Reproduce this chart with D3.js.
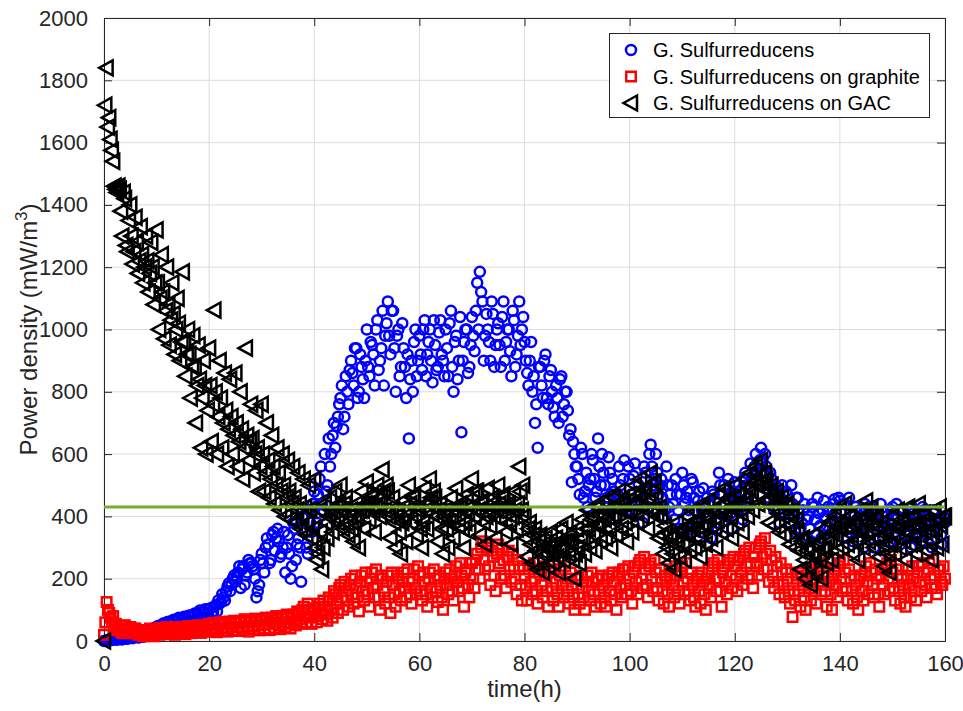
<!DOCTYPE html>
<html><head><meta charset="utf-8">
<script src="https://cdn.jsdelivr.net/npm/d3@7"></script>
<style>
body{margin:0;background:#fff}
svg{display:block}
text{font-family:"Liberation Sans",Arial,Helvetica,sans-serif;fill:#262626}
</style>
</head><body><svg id="chart" width="963" height="711"></svg>
<script>
// Sample times (h), first set of readings
const time = [
0,0.5,1,1.5,2,2.5,3,3.5,4,4.5,5,5.5,6,6.5,7,7.5,8,8.5,9,9.5,
10,10.5,11,11.5,12,12.5,13,13.5,14,14.5,15,15.5,16,16.5,17,17.5,18,18.5,19,19.5,
20,20.5,21,21.5,22,22.5,23,23.5,24,24.5,25,25.5,26,26.5,27,27.5,28,28.5,29,29.5,
30,30.5,31,31.5,32,32.5,33,33.5,34,34.5,35,35.5,36,36.5,37,37.5,38,38.5,39,39.5,
40,40.5,41,41.5,42,42.5,43,43.5,44,44.5,45,45.5,46,46.5,47,47.5,48,48.5,49,49.5,
50,50.5,51,51.5,52,52.5,53,53.5,54,54.5,55,55.5,56,56.5,57,57.5,58,58.5,59,59.5,
60,60.5,61,61.5,62,62.5,63,63.5,64,64.5,65,65.5,66,66.5,67,67.5,68,68.5,69,69.5,
70,70.5,71,71.5,72,72.5,73,73.5,74,74.5,75,75.5,76,76.5,77,77.5,78,78.5,79,79.5,
80,80.5,81,81.5,82,82.5,83,83.5,84,84.5,85,85.5,86,86.5,87,87.5,88,88.5,89,89.5,
90,90.5,91,91.5,92,92.5,93,93.5,94,94.5,95,95.5,96,96.5,97,97.5,98,98.5,99,99.5,
100,100.5,101,101.5,102,102.5,103,103.5,104,104.5,105,105.5,106,106.5,107,107.5,108,108.5,109,109.5,
110,110.5,111,111.5,112,112.5,113,113.5,114,114.5,115,115.5,116,116.5,117,117.5,118,118.5,119,119.5,
120,120.5,121,121.5,122,122.5,123,123.5,124,124.5,125,125.5,126,126.5,127,127.5,128,128.5,129,129.5,
130,130.5,131,131.5,132,132.5,133,133.5,134,134.5,135,135.5,136,136.5,137,137.5,138,138.5,139,139.5,
140,140.5,141,141.5,142,142.5,143,143.5,144,144.5,145,145.5,146,146.5,147,147.5,148,148.5,149,149.5,
150,150.5,151,151.5,152,152.5,153,153.5,154,154.5,155,155.5,156,156.5,157,157.5,158,158.5,159,159.5,
160];

// Sample times (h), second set of readings (between the first ones)
const timeB = [
0.25,0.75,1.25,1.75,2.25,2.75,3.25,3.75,4.25,4.75,5.25,5.75,6.25,6.75,7.25,7.75,8.25,8.75,9.25,9.75,
10.25,10.75,11.25,11.75,12.25,12.75,13.25,13.75,14.25,14.75,15.25,15.75,16.25,16.75,17.25,17.75,18.25,18.75,19.25,19.75,
20.25,20.75,21.25,21.75,22.25,22.75,23.25,23.75,24.25,24.75,25.25,25.75,26.25,26.75,27.25,27.75,28.25,28.75,29.25,29.75,
30.25,30.75,31.25,31.75,32.25,32.75,33.25,33.75,34.25,34.75,35.25,35.75,36.25,36.75,37.25,37.75,38.25,38.75,39.25,39.75,
40.25,40.75,41.25,41.75,42.25,42.75,43.25,43.75,44.25,44.75,45.25,45.75,46.25,46.75,47.25,47.75,48.25,48.75,49.25,49.75,
50.25,50.75,51.25,51.75,52.25,52.75,53.25,53.75,54.25,54.75,55.25,55.75,56.25,56.75,57.25,57.75,58.25,58.75,59.25,59.75,
60.25,60.75,61.25,61.75,62.25,62.75,63.25,63.75,64.25,64.75,65.25,65.75,66.25,66.75,67.25,67.75,68.25,68.75,69.25,69.75,
70.25,70.75,71.25,71.75,72.25,72.75,73.25,73.75,74.25,74.75,75.25,75.75,76.25,76.75,77.25,77.75,78.25,78.75,79.25,79.75,
80.25,80.75,81.25,81.75,82.25,82.75,83.25,83.75,84.25,84.75,85.25,85.75,86.25,86.75,87.25,87.75,88.25,88.75,89.25,89.75,
90.25,90.75,91.25,91.75,92.25,92.75,93.25,93.75,94.25,94.75,95.25,95.75,96.25,96.75,97.25,97.75,98.25,98.75,99.25,99.75,
100.25,100.75,101.25,101.75,102.25,102.75,103.25,103.75,104.25,104.75,105.25,105.75,106.25,106.75,107.25,107.75,108.25,108.75,109.25,109.75,
110.25,110.75,111.25,111.75,112.25,112.75,113.25,113.75,114.25,114.75,115.25,115.75,116.25,116.75,117.25,117.75,118.25,118.75,119.25,119.75,
120.25,120.75,121.25,121.75,122.25,122.75,123.25,123.75,124.25,124.75,125.25,125.75,126.25,126.75,127.25,127.75,128.25,128.75,129.25,129.75,
130.25,130.75,131.25,131.75,132.25,132.75,133.25,133.75,134.25,134.75,135.25,135.75,136.25,136.75,137.25,137.75,138.25,138.75,139.25,139.75,
140.25,140.75,141.25,141.75,142.25,142.75,143.25,143.75,144.25,144.75,145.25,145.75,146.25,146.75,147.25,147.75,148.25,148.75,149.25,149.75,
150.25,150.75,151.25,151.75,152.25,152.75,153.25,153.75,154.25,154.75,155.25,155.75,156.25,156.75,157.25,157.75,158.25,158.75,159.25,159.75];

// G. Sulfurreducens (mW/m^3)
const sulfurreducens = [
0,2,5,3,6,4,8,5,10,7, 12,9,15,11,18,14,22,17,35,25,
45,30,52,38,60,42,65,48,70,55, 72,58,80,62,85,68,90,75,95,80,
100,88,110,95,120,150,130,175,160,200, 190,220,170,240,210,260,250,230,140,180,
280,220,330,250,340,290,360,270,300,220, 340,200,380,260,330,190,400,300,420,350,
480,380,520,440,600,500,560,660,620,720, 780,680,850,760,900,820,940,800,880,780,
1000,850,950,820,1030,900,1060,980,1090,920, 1060,800,1000,880,940,780,650,900,960,850,
980,870,1030,920,1000,830,950,880,1030,900, 1000,850,1060,800,980,900,670,960,1000,880,
1040,930,1150,1185,1090,980,1000,900,1050,950, 1020,880,1090,960,1000,850,1030,920,1090,1000,
960,860,900,800,700,620,880,780,920,760, 870,750,820,700,850,760,800,660,510,600,
560,470,600,480,430,520,580,460,650,500, 540,430,590,470,480,400,560,450,580,420,
520,410,570,450,480,380,540,430,630,500, 600,470,520,400,560,430,500,390,470,360,
540,440,480,360,510,420,450,350,490,400, 440,330,470,380,540,430,500,400,470,360,
510,420,480,390,540,460,570,480,600,500, 620,540,560,460,520,420,480,380,500,410,
470,380,440,350,460,360,420,330,400,320, 430,340,410,330,450,370,420,350,455,380,
450,360,440,330,410,320,430,350,400,300, 420,340,390,300,410,330,380,290,400,320,
430,350,400,310,420,340,390,300,410,330, 400,320,420,340,390,300,410,330,380,310,
380];
const sulfurreducensB = [
1,3,4,6,5,7,6,9,8,11, 10,13,16,12,20,15,26,19,40,30,
48,35,56,40,62,46,68,52,75,58, 78,62,82,66,88,72,98,78,102,85,
105,92,115,130,125,140,160,185,180,210, 205,240,230,180,220,250,240,200,160,260,
250,300,310,260,350,330,320,280,350,300, 280,240,360,310,300,400,350,280,380,440,
430,470,560,420,480,650,600,700,690,760, 820,720,800,870,860,940,780,920,840,900,
880,960,920,1000,870,940,820,1020,980,1060, 940,980,850,1020,880,920,840,800,1000,900,
920,1000,850,960,900,1030,870,990,920,850, 940,1020,880,960,840,1040,900,1000,860,950,
980,1060,1000,1120,900,1050,960,1090,880,1000, 950,1040,900,1000,930,1060,880,980,950,1040,
900,820,960,850,760,880,820,900,780,850, 800,720,780,840,720,800,740,680,640,560,
520,620,460,540,500,600,520,480,560,600, 500,460,540,520,430,470,500,520,440,560,
470,530,420,500,440,560,480,600,560,520, 540,500,460,420,500,470,440,520,420,470,
500,460,420,520,460,380,480,420,440,460, 400,480,420,360,500,470,440,520,410,480,
460,500,430,520,500,440,520,560,540,580, 580,600,500,540,470,500,420,460,450,480,
420,500,400,460,410,380,440,390,360,440, 390,460,370,420,400,430,380,440,410,460,
410,440,380,460,360,400,390,420,350,440, 380,430,350,410,370,440,330,400,360,420,
390,440,360,420,380,400,340,430,370,410, 360,430,380,400,350,420,370,390,340,400];

// G. Sulfurreducens on graphite (mW/m^3)
const graphite = [
20,125,90,60,45,35,40,25,50,30, 45,25,40,20,35,15,30,20,25,15,
35,20,40,22,45,25,40,20,45,25, 40,22,48,25,45,28,50,26,48,30,
55,30,50,28,60,32,55,30,62,35, 58,32,65,35,60,30,68,38,62,34,
70,40,65,35,75,42,70,38,80,45, 75,40,85,50,90,55,110,60,100,55,
95,60,120,70,110,65,130,75,150,90, 180,100,160,110,200,120,170,95,210,130,
190,110,220,140,180,100,200,120,210,90, 180,110,200,130,220,140,190,120,230,150,
210,130,190,110,220,140,200,125,180,100, 220,150,200,130,240,160,210,110,230,140,
250,170,280,200,320,230,300,180,270,160, 310,200,260,170,290,190,240,150,230,130,
210,130,240,150,200,120,230,140,210,110, 220,130,190,110,230,140,200,120,180,100,
200,120,170,100,210,130,190,110,200,120, 180,110,210,130,190,100,220,140,230,150,
200,120,240,150,260,170,230,140,250,160, 220,130,200,120,190,110,230,140,210,120,
240,150,200,130,180,110,210,120,190,100, 230,140,250,160,200,110,240,150,260,170,
240,160,270,180,290,200,250,170,300,210, 320,230,280,190,260,170,240,150,220,140,
200,120,77,130,210,110,180,100,220,130, 200,120,240,150,210,110,190,100,230,140,
250,160,220,130,200,120,180,100,210,130, 240,150,220,140,200,110,230,150,250,160,
220,130,200,120,180,110,230,140,200,130, 240,160,220,140,250,170,210,150,230,180,
200];
const graphiteB = [
60,100,75,80,55,40,30,50,35,40, 30,40,25,35,20,30,25,40,20,30,
28,42,30,35,22,38,30,45,28,40, 32,44,30,40,35,50,33,45,38,52,
40,58,36,52,42,62,40,55,45,65, 45,60,42,70,48,62,46,72,50,66,
52,75,55,68,58,80,50,72,60,85, 55,80,62,95,70,100,80,120,75,105,
80,110,90,130,85,140,100,160,120,170, 140,190,130,180,150,210,140,190,160,220,
150,200,170,230,140,210,160,190,140,220, 150,210,160,190,170,230,150,200,170,240,
160,220,150,200,170,230,160,210,140,200, 180,230,160,210,190,250,170,220,180,250,
200,260,230,300,260,310,240,290,210,280, 250,300,210,270,230,280,200,260,180,240,
170,230,190,250,160,220,180,240,160,220, 170,230,150,210,180,240,160,220,140,200,
150,210,140,190,160,220,150,200,160,210, 140,200,160,220,150,210,170,230,180,240,
160,220,190,250,200,270,180,240,200,260, 170,230,160,210,150,200,180,240,160,220,
190,250,160,220,140,200,160,220,150,200, 180,240,200,260,160,220,190,250,210,270,
200,260,220,280,240,300,210,270,250,310, 270,330,230,290,210,270,190,250,180,230,
160,220,150,200,160,220,140,200,170,230, 160,220,190,250,160,220,150,200,180,240,
200,260,170,230,160,210,140,200,160,220, 190,250,180,230,150,210,180,240,200,260,
170,230,160,210,140,200,180,240,160,220, 190,250,180,230,200,260,170,230,190,240];

// G. Sulfurreducens on GAC (mW/m^3)
const gac = [
0,1840,1680,1575,1460,1440,1450,1300,1420,1250, 1400,1210,1360,1180,1330,1150,1300,1120,1280,1080,
1320,1000,1240,970,1200,950,1150,920,1100,900, 1185,850,1000,780,980,700,950,620,900,600,
940,640,1062,600,900,620,860,560,840,600, 860,560,800,520,940,580,760,540,740,480,
760,480,700,460,660,440,620,420,600,400, 580,390,560,380,540,360,520,340,500,330,
520,260,420,230,440,330,460,350,480,380, 500,360,460,340,420,320,440,300,480,360,
510,390,470,350,500,400,550,420,480,330, 460,300,420,280,450,320,500,380,470,340,
430,300,490,360,520,410,460,320,440,280, 420,300,460,330,490,370,430,300,470,350,
520,400,480,340,450,310,490,370,460,330, 500,390,470,350,440,310,480,360,560,420,
400,270,380,250,360,230,340,220,330,240, 350,250,330,220,360,260,380,280,320,200,
360,250,390,280,420,300,400,290,430,320, 450,330,420,300,460,340,480,360,440,320,
470,350,500,380,520,400,490,360,540,420, 460,330,400,280,350,250,330,230,380,270,
360,260,400,290,420,300,390,270,430,310, 450,330,420,300,470,350,490,360,460,330,
500,380,470,350,520,400,540,420,560,440, 580,450,520,380,500,370,480,350,460,340,
440,310,420,300,350,230,330,200,300,180, 340,220,320,200,360,250,380,260,400,290,
420,300,440,310,400,280,380,260,420,300, 450,320,430,300,400,270,380,240,350,220,
400,280,420,300,380,260,430,310,400,280, 440,320,410,290,380,260,420,300,430,310,
400];
const gacB = [
1720,1650,1610,1540,1450,1460,1380,1440,1270,1350, 1300,1250,1280,1220,1240,1200,1220,1180,1200,1150,
1150,1100,1120,1060,1080,1030,1050,1000,1020,960, 960,920,920,880,880,820,840,780,820,740,
820,760,800,720,780,700,740,680,720,660, 700,640,680,620,660,640,650,600,620,560,
600,540,580,520,560,500,540,480,500,460, 480,440,460,420,440,400,430,380,420,360,
300,280,350,300,380,400,420,400,430,440, 420,440,380,400,360,380,400,420,420,440,
440,460,420,430,440,460,480,500,400,420, 380,400,350,380,400,420,440,460,400,420,
360,380,420,440,460,480,400,420,360,400, 360,380,400,420,430,440,360,380,410,430,
460,480,420,440,380,400,420,440,400,420, 440,460,410,430,380,400,420,440,480,500,
330,360,310,340,290,320,280,300,280,300, 290,310,270,290,300,320,320,340,260,280,
300,330,330,360,360,390,340,370,370,400, 390,420,360,390,400,430,420,450,380,410,
410,440,440,470,460,490,420,450,480,510, 400,430,340,370,300,330,280,310,320,350,
310,340,340,370,360,390,330,360,370,400, 390,420,360,390,410,440,420,450,400,430,
440,470,410,440,460,490,480,510,500,530, 510,540,450,480,430,460,410,440,400,430,
370,400,360,390,290,320,260,290,240,270, 280,310,260,290,300,330,320,350,340,370,
360,390,370,400,340,370,320,350,360,390, 380,410,360,390,330,360,310,340,280,310,
340,370,360,390,320,350,370,400,340,370, 380,410,350,380,320,350,360,390,370,400];

const referenceLevel = 430;           // horizontal green line
const xTicks = [0,20,40,60,80,100,120,140,160];
const yTicks = [0,200,400,600,800,1000,1200,1400,1600,1800,2000];
const seriesNames = ["G. Sulfurreducens","G. Sulfurreducens on graphite","G. Sulfurreducens on GAC"];

const svg = d3.select("#chart");
const L = 104, R = 945, T = 18, B = 641;
const x = d3.scaleLinear().domain([0,160]).range([L,R]);
const y = d3.scaleLinear().domain([0,2000]).range([B,T]);
const axisColor = "#262626";

// grid
const grid = svg.append("g");
grid.selectAll(".gx").data(xTicks).enter().append("line")
  .attr("x1",d=>x(d)).attr("x2",d=>x(d)).attr("y1",T).attr("y2",B)
  .attr("stroke","#dcdcdc").attr("stroke-width",1);
grid.selectAll(".gy").data(yTicks).enter().append("line")
  .attr("x1",L).attr("x2",R).attr("y1",d=>y(d)).attr("y2",d=>y(d))
  .attr("stroke","#dcdcdc").attr("stroke-width",1);

// axes via d3 (ticks inward)
const xAxisB = d3.axisBottom(x).tickValues(xTicks).tickSize(-8).tickPadding(14).tickFormat(d3.format("d"));
const yAxisL = d3.axisLeft(y).tickValues(yTicks).tickSize(-8).tickPadding(16).tickFormat(d3.format("d"));
const xAxisT = d3.axisTop(x).tickValues(xTicks).tickSize(-8).tickFormat("");
const yAxisR = d3.axisRight(y).tickValues(yTicks).tickSize(-8).tickFormat("");

function styleAxis(g){
  g.select(".domain").attr("stroke",axisColor).attr("stroke-width",1);
  g.selectAll(".tick line").attr("stroke",axisColor).attr("stroke-width",1);
  g.selectAll(".tick text").attr("fill",axisColor).style("font-size","22px")
   .style("font-family","'Liberation Sans',Arial,Helvetica,sans-serif");
}
svg.append("g").attr("transform",`translate(0,${B})`).call(xAxisB).call(styleAxis);
svg.append("g").attr("transform",`translate(${L},0)`).call(yAxisL).call(styleAxis);
svg.append("g").attr("transform",`translate(0,${T})`).call(xAxisT).call(styleAxis);
svg.append("g").attr("transform",`translate(${R},0)`).call(yAxisR).call(styleAxis);

// markers
const SW = 2.5;
const triPath = "M-7.5,0L6,-7.5L6,7.5Z";
const pts = (ta, va) => ta.map((t,i)=>[t,va[i]]);
const mergeByTime = (a,b) => a.concat(b).sort((p,q)=>p[0]-q[0]);

svg.append("g").selectAll("circle")
  .data(mergeByTime(pts(time,sulfurreducens), pts(timeB,sulfurreducensB))).enter().append("circle")
  .attr("cx",d=>x(d[0])).attr("cy",d=>y(d[1])).attr("r",5)
  .attr("fill","none").attr("stroke","#0000ff").attr("stroke-width",SW);
svg.append("g").selectAll("rect")
  .data(mergeByTime(pts(time,graphite), pts(timeB,graphiteB))).enter().append("rect")
  .attr("x",d=>x(d[0])-4.75).attr("y",d=>y(d[1])-4.75).attr("width",9.5).attr("height",9.5)
  .attr("fill","none").attr("stroke","#ff0000").attr("stroke-width",SW);
svg.append("g").selectAll("path")
  .data(mergeByTime(pts(time,gac), pts(timeB,gacB))).enter().append("path")
  .attr("d",triPath).attr("transform",d=>`translate(${x(d[0])},${y(d[1])})`)
  .attr("fill","none").attr("stroke","#000").attr("stroke-width",SW);

// reference line
svg.append("line").attr("x1",x(0)).attr("x2",x(160)).attr("y1",y(referenceLevel)).attr("y2",y(referenceLevel))
  .attr("stroke","#77ac30").attr("stroke-width",3);

// axis labels
svg.append("text").attr("x",(L+R)/2).attr("y",697).attr("text-anchor","middle")
  .style("font-size","24px").text("time(h)");
const yl = svg.append("text").attr("transform",`translate(37,${(T+B)/2}) rotate(-90)`)
  .attr("text-anchor","middle").style("font-size","24px");
yl.append("tspan").text("Power density (mW/m");
yl.append("tspan").attr("dy",-10).style("font-size","17px").text("3");
yl.append("tspan").attr("dy",10).text(")");

// legend
const lg = svg.append("g");
lg.append("rect").attr("x",609.5).attr("y",33.5).attr("width",320).attr("height",84)
  .attr("fill","#fff").attr("stroke",axisColor).attr("stroke-width",1);
const rows = [50,76.5,103];
lg.append("circle").attr("cx",631).attr("cy",rows[0]).attr("r",5)
  .attr("fill","none").attr("stroke","#0000ff").attr("stroke-width",SW);
lg.append("rect").attr("x",631-4.75).attr("y",rows[1]-4.75).attr("width",9.5).attr("height",9.5)
  .attr("fill","none").attr("stroke","#ff0000").attr("stroke-width",SW);
lg.append("path").attr("d",triPath).attr("transform",`translate(631,${rows[2]})`)
  .attr("fill","none").attr("stroke","#000").attr("stroke-width",SW);
seriesNames.forEach((n,i)=>{
  lg.append("text").attr("x",653).attr("y",rows[i]+7).style("font-size","20px").style("fill","#000").text(n);
});
</script>
</body></html>
